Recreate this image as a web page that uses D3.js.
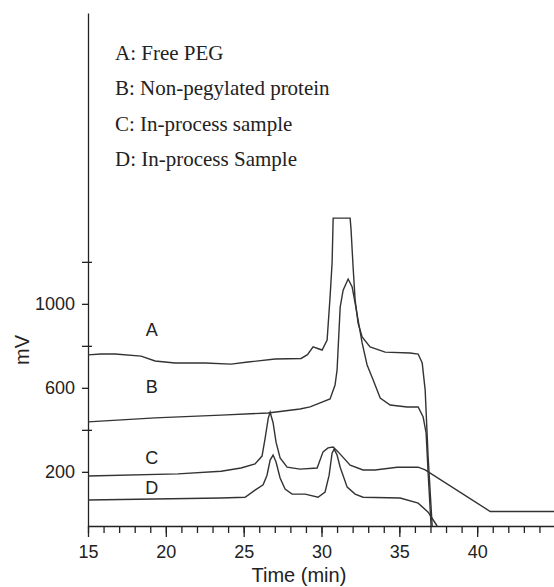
<!DOCTYPE html>
<html>
<head>
<meta charset="utf-8">
<script src="https://cdn.jsdelivr.net/npm/d3@7"></script>
<style>
  body { margin: 0; background: #fff; }
  .axis text { font-family: "Liberation Sans", Arial, sans-serif; font-size: 18px; fill: #222; }
  .axis path, .axis line { stroke: #222; stroke-width: 1.3; }
  .trace { fill: none; stroke: #333; stroke-width: 1.4; }
  .legend { font-family: "Liberation Serif", "Times New Roman", serif; font-size: 21px; fill: #222; }
  .label { font-family: "Liberation Sans", Arial, sans-serif; fill: #222; }
</style>
</head>
<body>
<div id="chart"></div>
<script>
const width = 554;
const height = 587;

// tick values
const x_major = [15, 20, 25, 30, 35, 40];
const x_minor = d3.range(15, 45, 1);
const y_major = [200, 600, 1000];
const y_minor = [400, 800, 1200];

const legend_labels = ["A: Free PEG", "B: Non-pegylated protein", "C: In-process sample", "D: In-process Sample"];
const trace_names = ["A", "B", "C", "D"];
const trace_label_values = [875, 604, 266, 123];

// traces, [time (min), mV]
const trace_a = [
  [15, 757], [15.84, 761], [16.74, 761], [18.41, 751], [19.31, 728], [20.59, 718], [22.52, 718],
  [24.19, 713], [25.28, 723], [27.02, 737], [28.69, 740], [29.1, 758], [29.46, 795], [29.8, 786],
  [30.04, 780], [30.36, 827], [30.55, 1032], [30.68, 1194], [30.75, 1408], [31.84, 1408],
  [31.9, 1351], [32.03, 1175], [32.16, 1018], [32.35, 908], [32.61, 842], [33.12, 795],
  [34.09, 770], [35.69, 766], [36.21, 761], [36.47, 718], [36.66, 589], [36.85, 270], [37.11, -58]
];
const trace_b = [
  [15, 438], [19.31, 457], [23.55, 470], [26.57, 480], [28.62, 499], [29.27, 509], [29.91, 528],
  [30.55, 547], [30.87, 613], [31.0, 684], [31.2, 984], [31.39, 1065], [31.71, 1118], [31.97, 1080],
  [32.16, 1003], [32.35, 923], [32.61, 814], [32.93, 709], [33.32, 637], [33.77, 551], [34.41, 518],
  [35.5, 509], [36.21, 509], [36.53, 461], [36.72, 385], [36.85, 194], [37.04, -58]
];
const trace_c = [
  [15, 180], [20.78, 190], [23.55, 203], [24.83, 218], [25.73, 238], [26.18, 275], [26.38, 360],
  [26.58, 456], [26.7, 484], [26.89, 434], [27.08, 341], [27.34, 266], [27.79, 222], [28.62, 213],
  [29.72, 218], [30.1, 295], [30.42, 314], [30.75, 318], [31.07, 295], [31.84, 232], [32.67, 209],
  [33.44, 209], [34.86, 222], [36.21, 222], [36.66, 209], [40.84, 11], [45, 11]
];
const trace_d = [
  [15, 66], [23.55, 75], [25.09, 79], [25.73, 113], [26.25, 138], [26.5, 184], [26.7, 256],
  [26.89, 280], [27.08, 247], [27.34, 171], [27.66, 118], [28.11, 94], [28.95, 94], [29.78, 79],
  [30.23, 104], [30.49, 184], [30.68, 289], [30.81, 308], [31.0, 280], [31.2, 222], [31.65, 127],
  [32.16, 94], [32.67, 79], [35.05, 75], [36.21, 51], [36.85, 8], [37.43, -58]
];
const traces = [trace_a, trace_b, trace_c, trace_d];

const x_scale = d3.scaleLinear().domain([15, 45]).range([88, 555]);
const y_scale = d3.scaleLinear().domain([-58, 2385]).range([526, 13]);

const svg = d3.select('#chart')
  .append('svg')
    .attr('width', width)
    .attr('height', height);

// x axis: minor then major ticks
svg.append('g')
    .attr('class', 'axis')
    .attr('transform', 'translate(0,' + y_scale(-58) + ')')
    .call(d3.axisBottom(x_scale).tickValues(x_minor).tickSize(7).tickSizeOuter(0).tickFormat(''));
svg.append('g')
    .attr('class', 'axis')
    .attr('transform', 'translate(0,' + y_scale(-58) + ')')
    .call(d3.axisBottom(x_scale).tickValues(x_major).tickSize(11).tickSizeOuter(0).tickPadding(8))
  .call(g => g.select('.domain').remove());

// y axis
svg.append('g')
    .attr('class', 'axis')
    .attr('transform', 'translate(' + x_scale(15) + ',0)')
    .call(d3.axisLeft(y_scale).tickValues(y_major).tickSize(6).tickSizeOuter(0).tickPadding(7).tickFormat(d3.format('d')));
svg.append('g')
    .attr('class', 'axis')
    .attr('transform', 'translate(' + x_scale(15) + ',0)')
    .call(d3.axisLeft(y_scale).tickValues(y_minor).tickSize(6).tickFormat(''))
  .call(g => g.select('.domain').remove())
  .call(g => g.selectAll('.tick line').attr('x1', 4));

// traces
const line = d3.line()
  .x(d => x_scale(d[0]))
  .y(d => y_scale(d[1]));

svg.selectAll('.trace')
    .data(traces)
  .join('path')
    .attr('class', 'trace')
    .attr('d', line);

// trace letters
svg.selectAll('.trace-label')
    .data(trace_names)
  .join('text')
    .attr('class', 'label trace-label')
    .attr('x', x_scale(19.1))
    .attr('y', (d, i) => y_scale(trace_label_values[i]))
    .attr('text-anchor', 'middle')
    .attr('dy', '0.35em')
    .style('font-size', '18px')
    .text(d => d);

// legend
svg.selectAll('.legend')
    .data(legend_labels)
  .join('text')
    .attr('class', 'legend')
    .attr('x', 115)
    .attr('y', (d, i) => 60 + i * 35.4)
    .text(d => d);

// axis titles
svg.append('text')
    .attr('class', 'label')
    .attr('x', x_scale(28.55))
    .attr('y', 582)
    .attr('text-anchor', 'middle')
    .style('font-size', '20px')
    .text('Time (min)');
svg.append('text')
    .attr('class', 'label')
    .attr('transform', 'translate(29,' + y_scale(780) + ') rotate(-90)')
    .attr('text-anchor', 'middle')
    .style('font-size', '20px')
    .text('mV');
</script>
</body>
</html>
